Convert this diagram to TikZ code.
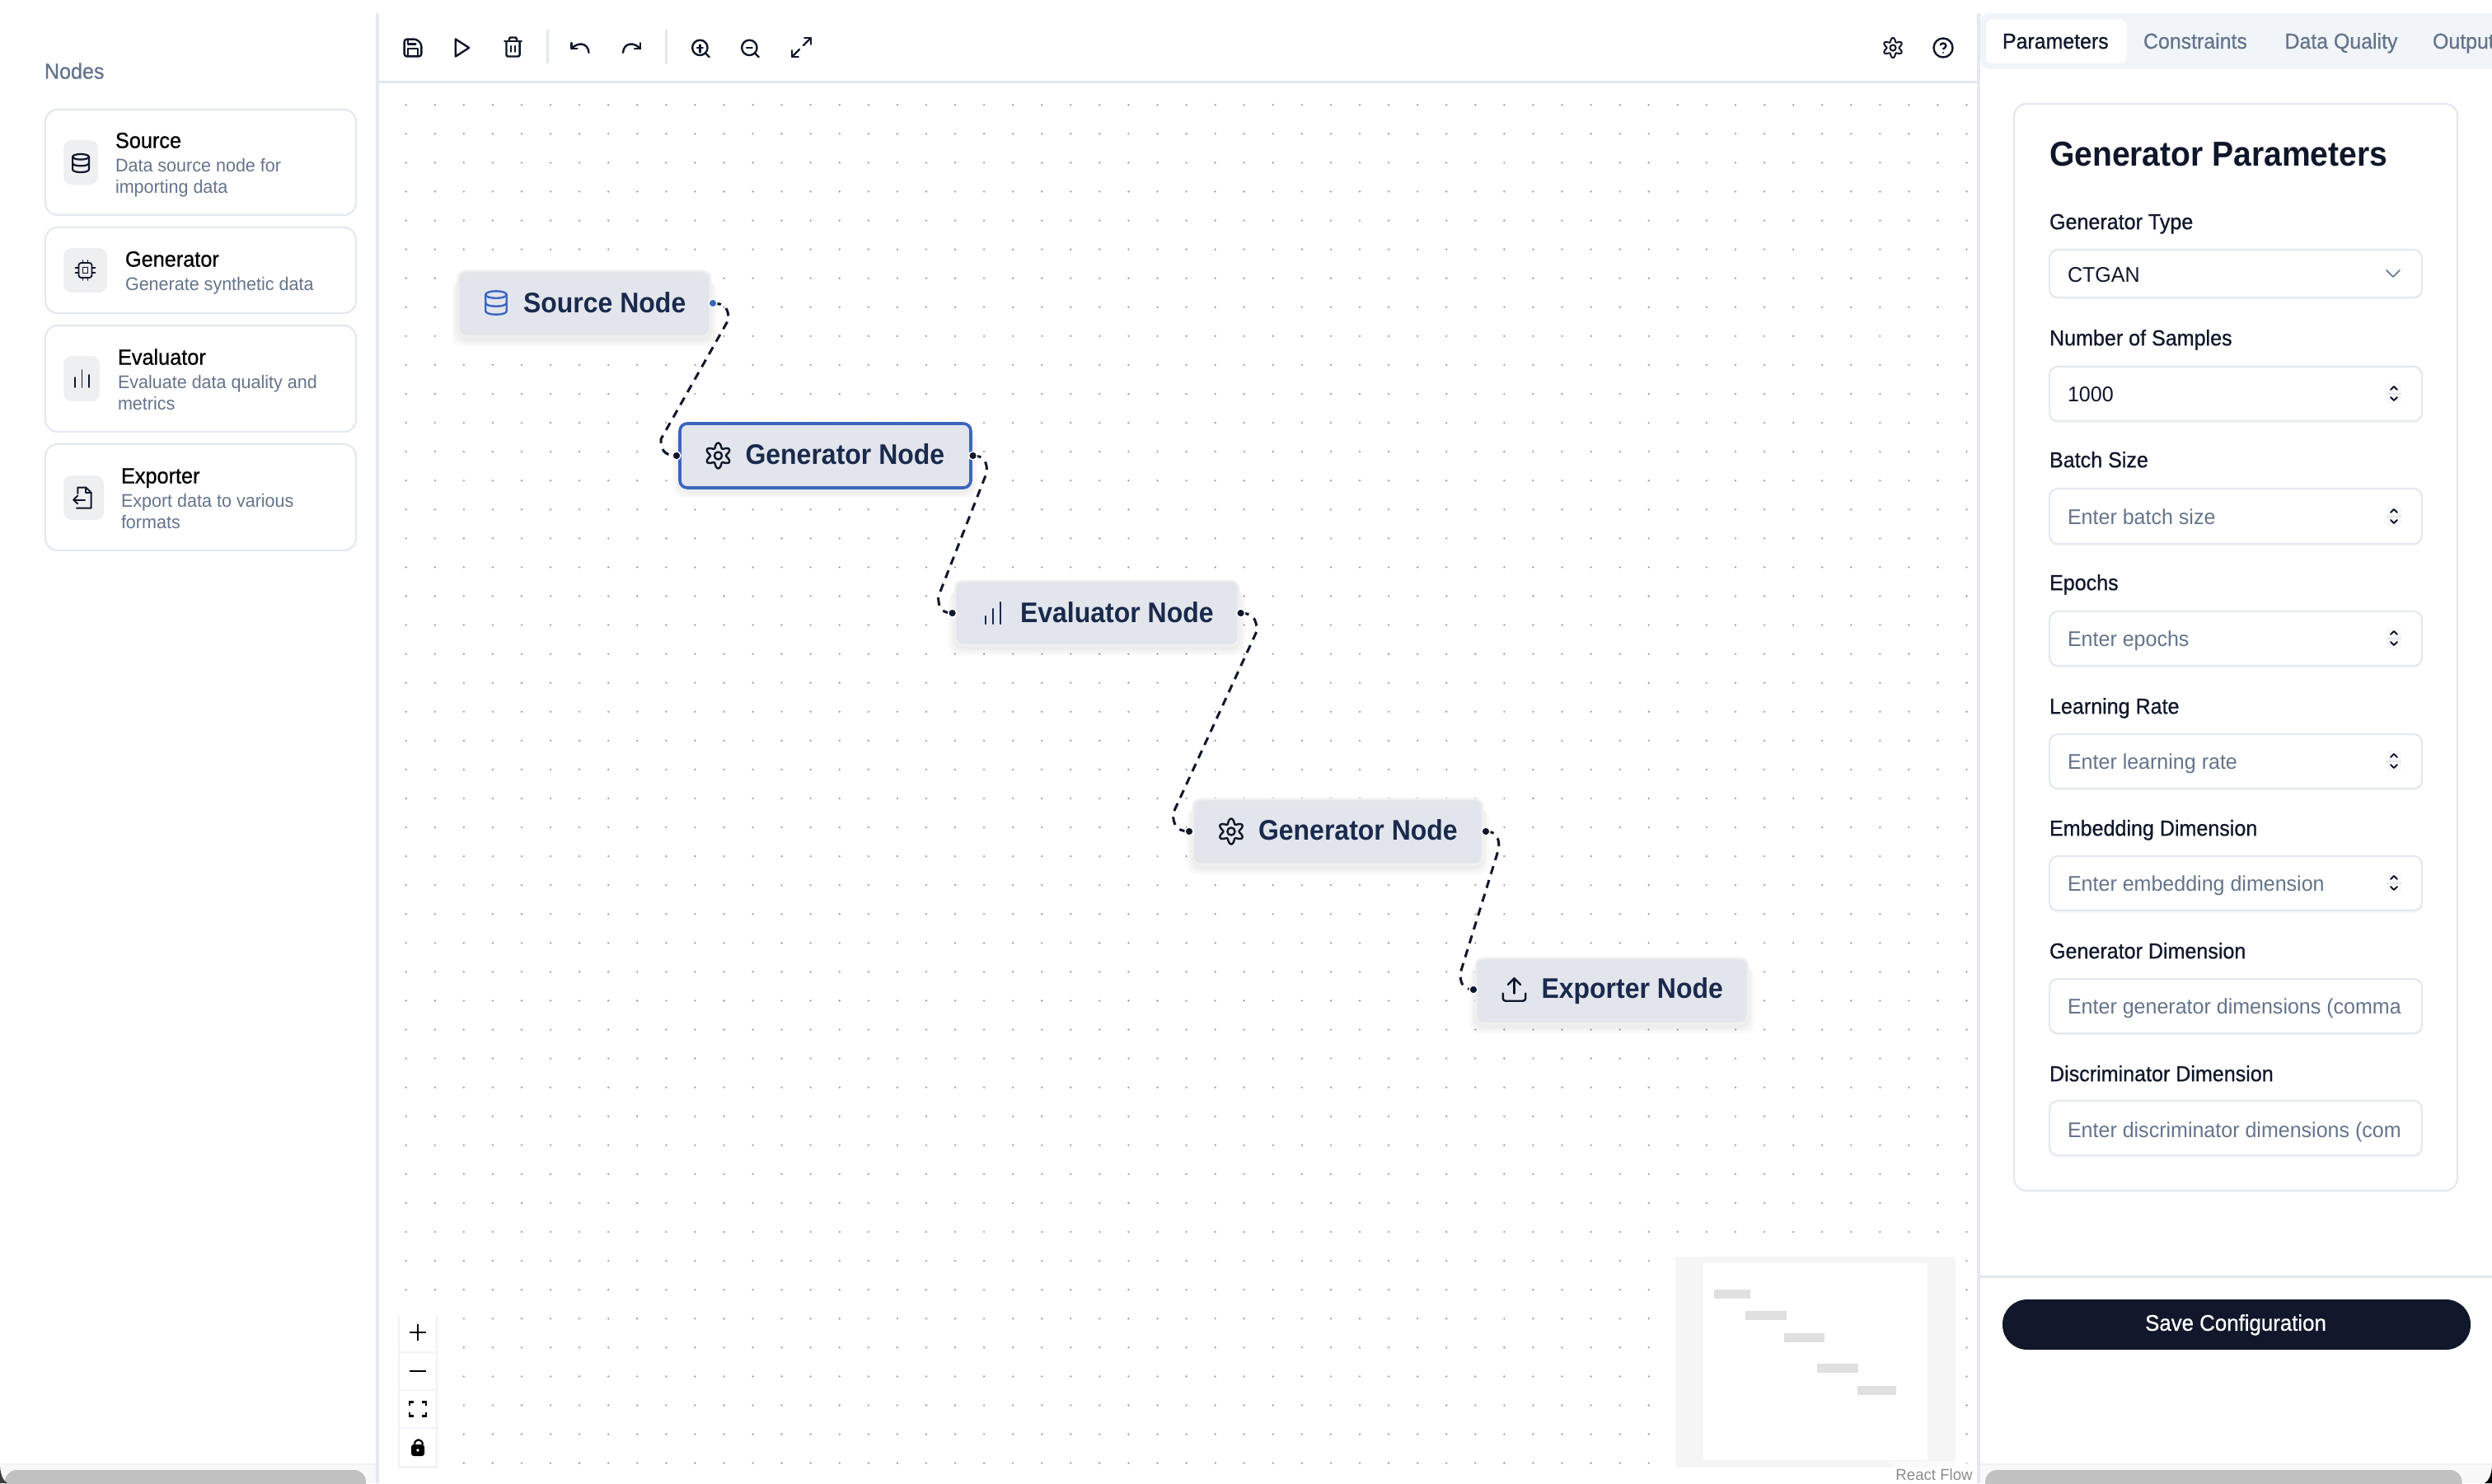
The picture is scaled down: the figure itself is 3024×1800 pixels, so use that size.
\documentclass[tikz,border=0pt]{standalone}
\usepackage{fontspec}
\setmainfont[FakeStretch=.97]{Liberation Sans}
\newfontfamily\medf[FakeBold=0.7,FakeStretch=.95]{Liberation Sans}
\newfontfamily\boldf[FakeStretch=.93,UprightFont=* Bold]{Liberation Sans}
\usetikzlibrary{calc}
\pgfdeclarelayer{under}
\pgfsetlayers{under,main}
\definecolor{rulec}{HTML}{E4E8F0}
\definecolor{slatec}{HTML}{64748B}
\definecolor{darkc}{HTML}{0F172A}
\definecolor{navyc}{HTML}{1A2A4D}
\definecolor{bluec}{HTML}{3B66BE}
\definecolor{flowc}{HTML}{E2E5EC}
\definecolor{flowb}{HTML}{F0F0EF}
\definecolor{chipc}{HTML}{EEEFF1}
\definecolor{tabc}{HTML}{F1F5F9}
\definecolor{dotc}{HTML}{A0A0A6}
\definecolor{btnc}{HTML}{12182B}
\definecolor{thumbc}{HTML}{C1C1C1}
\definecolor{trackc}{HTML}{F8F8F8}
\definecolor{minic}{HTML}{F5F5F5}
\definecolor{minin}{HTML}{E0E0E0}
\tikzset{
  lab/.style={anchor=west,inner sep=0pt,outer sep=0pt},
  titlet/.style={lab,font=\medf\fontsize{13.3}{15}\selectfont,text=black,text height=7.6pt,text depth=0pt},
  subt/.style={lab,font=\fontsize{11.1}{13}\selectfont,text=slatec,text height=7.8pt,text depth=0pt},
  flowt/.style={lab,font=\boldf\fontsize{17.2}{19}\selectfont,text=navyc,text height=10.5pt,text depth=0pt},
  fieldl/.style={lab,font=\medf\fontsize{13.2}{15}\selectfont,text=darkc,text height=8.2pt,text depth=0pt},
  fieldt/.style={lab,font=\fontsize{12.9}{15}\selectfont,text=slatec,text height=9pt,text depth=0pt},
  tabt/.style={lab,font=\medf\fontsize{13.1}{15}\selectfont,text=slatec,text height=8pt,text depth=0pt},
  flownode/.style={draw=flowb,line width=1.4pt,fill=flowc,rounded corners=4.5pt,inner sep=0pt},
  selnode/.style={flownode,draw=bluec,line width=1.8pt},
  handle/.style={circle,fill=darkc,draw=white,line width=.7pt,minimum size=5pt,inner sep=0pt},
  edgeline/.style={draw=darkc,line width=1.5pt,dash pattern=on 5pt off 3.8pt},
  ico/.style={draw=#1,line width=1.2pt,line cap=round,line join=round},
  ico/.default=darkc,
  card/.style={draw=rulec,line width=1.1pt,fill=white,rounded corners=7.5pt},
  inbox/.style={draw=rulec,line width=1.1pt,fill=white,rounded corners=5pt},
}
\newcommand\flowbox[7]{% name,x1,y1,x2,y2,style,-
  \foreach \e/\d in {8/12,5/9,2/6}{\fill[black,opacity=.025,rounded corners=6pt] ({#2-\e},{#3+\d}) rectangle ({#4+\e},{#5+\d});}
  \node[#6,minimum width={(#4-#2)*0.5pt},minimum height={(#5-#3)*0.5pt}] (#1) at ({(#2+#4)/2},{(#3+#5)/2}) {};
}
\newcommand\flowedge[4]{\draw[edgeline] (#1.center) .. controls ($(#1.center)+(#3-3,0)$) and ($(#1.center)+(#3,#4-12)$) .. ($(#1.center)+(#3,#4)$) -- ($(#2.center)+(-#3,-#4)$) .. controls ($(#2.center)+(-#3,-#4+12)$) and ($(#2.center)+(-#3+3,0)$) .. (#2.center);}
% icons, drawn in a lucide-like 24 grid centred at the origin
\newcommand\icdb{\draw (0,-7) ellipse [x radius=9,y radius=3];
  \draw (-9,-7) -- (-9,7) .. controls (-9,11) and (9,11) .. (9,7) -- (9,-7);
  \draw (-9,0) .. controls (-9,4) and (9,4) .. (9,0);}
\newcommand\icgear{\draw plot[domain=0:355,samples=72,smooth cycle] (\x:{12.5-3*cos(6*\x)});
  \draw (0,0) circle [radius=4.6];}
\newcommand\icsave{\draw[rounded corners=1.5pt] (-9,-9) -- (4,-9) -- (9,-4) -- (9,9) -- (-9,9) -- cycle;
  \draw (5,9) -- (5,1) -- (-5,1) -- (-5,9); \draw (-5,-9) -- (-5,-4) -- (3,-4);}
\newcommand\icplay{\draw (-7,-9) -- (7,0) -- (-7,9) -- cycle;}
\newcommand\ictrash{\draw (-9,-6) -- (9,-6); \draw[rounded corners=1pt] (7,-6) -- (7,10) -- (-7,10) -- (-7,-6);
  \draw (-4,-6) -- (-4,-8) .. controls (-4,-10) and (-3,-10) .. (-2,-10) -- (2,-10) .. controls (3,-10) and (4,-10) .. (4,-8) -- (4,-6);
  \draw (-2,-1) -- (-2,5); \draw (2,-1) -- (2,5);}
\newcommand\icundo{\draw (-9,-5) -- (-9,1) -- (-3,1); \draw (9,5) .. controls (8,-6) and (-3,-6) .. (-9,1);}
\newcommand\iczoom{\draw (-1,-1) circle [radius=8]; \draw (9,9) -- (4.7,4.7); \draw (-4,-1) -- (2,-1);}
\newcommand\icexpand{\draw (3,-9) -- (9,-9) -- (9,-3); \draw (2,-2) -- (9,-9); \draw (-3,9) -- (-9,9) -- (-9,3); \draw (-2,2) -- (-9,9);}
\newcommand\ichelp{\draw (0,0) circle [radius=10];
  \draw (-2.9,-3) .. controls (-2.3,-5.5) and (3,-5.5) .. (3,-2) .. controls (3,0) and (0,1) .. (0,1);
  \fill[darkc] (0,5) circle [radius=.9];}
\newcommand\icchip{\draw[rounded corners=1.5pt] (-8,-9) rectangle (8,9); \draw (-3,-3.5) rectangle (3,3.5);
  \foreach \p in {-3,3}{\draw (\p,-12) -- (\p,-9); \draw (\p,9) -- (\p,12); \draw (-12,\p) -- (-8,\p); \draw (8,\p) -- (12,\p);}}
\newcommand\icfile{\draw (-5,-4) -- (-5,-10) -- (3,-10) -- (8,-5) -- (8,10) -- (-6,10);
  \draw (3,-10) -- (3,-5) -- (8,-5);
  \draw (-9,2) -- (2,2); \draw (-5,-2) -- (-9,2) -- (-5,6);}
\newcommand\icupload{\draw[rounded corners=1.5pt] (9,3) -- (9,9) -- (-9,9) -- (-9,3); \draw (5,-4) -- (0,-9) -- (-5,-4); \draw (0,-9) -- (0,3);}
\newcommand\icat[5][darkc]{\begin{scope}[shift={(#2,#3)},scale=#4,ico=#1]#5\end{scope}}
% form field: id, label y, box y1, box y2, text y, label, value, spinner, text colour
\newcommand\field[9]{%
  \node[fieldl] (lab#1) at (2487,#2) {#6};
  \fill[black,opacity=.025,rounded corners=5pt] (2487,#3+2) rectangle (2939,#4+3);
  \draw[inbox] (2487,#3) rectangle (2939,#4);
  \begin{scope}
    \clip (2490,#3) rectangle (2917,#4);
    \node[fieldt,text=#9] (val#1) at (2509,#5) {#7};
  \end{scope}
  \ifnum#8=1
    \fill[trackc,rounded corners=2pt] (2896,#5-13) rectangle (2914,#5+12);
    \draw[rulec,line width=.8pt] (2896,#5) -- (2914,#5);
    \draw[ico=darkc,line width=1pt] (2901,#5-5) -- (2905,#5-9) -- (2909,#5-5);
    \draw[ico=darkc,line width=1pt] (2901,#5+4) -- (2905,#5+8) -- (2909,#5+4);
  \fi
}
\begin{document}
\begin{tikzpicture}[x=0.5pt,y=-0.5pt]
\useasboundingbox (0,0) rectangle (3024,1800);
\begin{pgfonlayer}{under}
  \fill[white] (0,0) rectangle (3024,1800);
  \fill[dotc] \foreach \i in {0,...,54}{\foreach \j in {0,...,47}{({492.7+\i*35.07},{127.3+\j*35.07}) circle [radius=1.3]}};
\end{pgfonlayer}

% frame rules
\fill[rulec] (456,16) rectangle (459.5,1800);
\fill[rulec] (2399,16) rectangle (2402.5,1800);
\fill[rulec] (460,98) rectangle (2399,100.5);
\fill[rulec] (663,36) rectangle (665.5,77);
\fill[rulec] (807,36) rectangle (809.5,77);

% left panel
\node[lab,font=\medf\fontsize{13.2}{15}\selectfont,text=slatec,text height=7.6pt,text depth=0pt] (nodeshead) at (54,88) {Nodes};
\draw[card] (55,133) rectangle (432,261);
\draw[card] (55,276) rectangle (432,380);
\draw[card] (55,395) rectangle (432,524);
\draw[card] (55,539) rectangle (432,668);
\fill[chipc,rounded corners=5pt] (77,170) rectangle (119,224);
\fill[chipc,rounded corners=5pt] (77,301) rectangle (130,355);
\fill[chipc,rounded corners=5pt] (77,432) rectangle (121,487);
\fill[chipc,rounded corners=5pt] (77,577) rectangle (126,631);
\icat{98}{198}{1.1}{\tikzset{every path/.style={line width=1.1pt}}\icdb}
\icat{103.5}{328}{1}{\tikzset{every path/.style={line width=.9pt}}\icchip}
\icat{100.5}{604}{1.25}{\tikzset{every path/.style={line width=1pt}}\icfile}
\begin{scope}[ico=darkc,line width=.9pt]
  \draw (91,470) -- (91,458); \draw (99.5,470) -- (99.5,449); \draw (108,470) -- (108,455);
\end{scope}
\node[titlet] (c1t) at (140,172) {Source};
\node[subt] (c1a) at (140,201) {Data source node for};
\node[subt] (c1b) at (140,227) {importing data};
\node[titlet] (c2t) at (152,316) {Generator};
\node[subt] (c2a) at (152,345) {Generate synthetic data};
\node[titlet] (c3t) at (143,435) {Evaluator};
\node[subt] (c3a) at (143,464) {Evaluate data quality and};
\node[subt] (c3b) at (143,490) {metrics};
\node[titlet] (c4t) at (147,579) {Exporter};
\node[subt] (c4a) at (147,608) {Export data to various};
\node[subt] (c4b) at (147,634) {formats};

% toolbar
\icat{501}{58}{1.15}{\icsave}
\icat{561}{58}{1.17}{\icplay}
\icat{622.5}{57}{1.15}{\ictrash}
\icat{704}{58}{1.17}{\icundo}
\begin{scope}[shift={(766.5,58)},xscale=-1.17,yscale=1.17,ico=darkc]\icundo\end{scope}
\icat{850.5}{59}{1.15}{\iczoom}
\icat{910.5}{59}{1.15}{\iczoom}
\draw[ico=darkc] (849.5,54.5) -- (849.5,63.5);
\icat{972.5}{57.5}{1.25}{\icexpand}
\icat{2297}{58}{.78}{\tikzset{every path/.style={line width=1pt}}\icgear}
\icat{2358}{58}{1.15}{\ichelp}

% flow nodes
\flowbox{source}{556}{329}{862}{408}{flownode}{}
\flowbox{gena}{825}{514}{1178}{592}{selnode}{}
\flowbox{evala}{1159}{705}{1503}{783}{flownode}{}
\flowbox{genb}{1448}{970}{1799}{1049}{flownode}{}
\flowbox{expo}{1791}{1163}{2121}{1242}{flownode}{}
\icat[bluec]{602}{367.5}{1.42}{\icdb}
\icat{871.5}{553}{1}{\icgear}
\icat{1494}{1009}{1}{\icgear}
\icat{1837.5}{1201}{1.52}{\icupload}
\begin{scope}[ico=navyc]
  \draw (1196,757) -- (1196,748); \draw (1205,757) -- (1205,739); \draw (1214,757) -- (1214,731);
\end{scope}
\node[flowt] (sourcet) at (635,369) {Source Node};
\node[flowt] (genat) at (904.5,553) {Generator Node};
\node[flowt] (evalat) at (1238,744.5) {Evaluator Node};
\node[flowt] (genbt) at (1527,1009) {Generator Node};
\node[flowt] (expot) at (1870.5,1201) {Exporter Node};

% handles and connectors
\node[handle,fill=bluec] (h1) at (865,368) {};
\node[handle] (h2) at (821,553) {};
\node[handle] (h3) at (1180.6,553) {};
\node[handle] (h4) at (1155.6,744) {};
\node[handle] (h5) at (1505.6,744) {};
\node[handle] (h6) at (1443,1009) {};
\node[handle] (h7) at (1803,1009) {};
\node[handle] (h8) at (1788,1201) {};
\begin{pgfonlayer}{under}
  \flowedge{h1}{h2}{19}{20}
  \flowedge{h3}{h4}{17}{20}
  \flowedge{h5}{h6}{19.5}{22}
  \flowedge{h7}{h8}{16}{20}
\end{pgfonlayer}

% zoom controls
\fill[black,opacity=.05] (483,1596) rectangle (531,1782);
\foreach \a/\b in {1596/1640,1642/1686,1688/1732,1734/1779}{\fill[white] (485,\a) rectangle (529,\b);}
\fill[rulec!50!white] (485,1640) rectangle (529,1642);
\fill[rulec!50!white] (485,1686) rectangle (529,1688);
\fill[rulec!50!white] (485,1732) rectangle (529,1734);
\draw[black,line width=1.3pt] (497,1617) -- (517,1617); \draw[black,line width=1.3pt] (507,1607) -- (507,1627);
\draw[black,line width=1.3pt] (497,1664) -- (517,1664);
\begin{scope}[black,line width=1.2pt]
  \draw (497,1706) -- (497,1701.5) -- (502,1701.5); \draw (512,1701.5) -- (517,1701.5) -- (517,1706);
  \draw (497,1714) -- (497,1718.5) -- (502,1718.5); \draw (512,1718.5) -- (517,1718.5) -- (517,1714);
\end{scope}
\fill[black,rounded corners=1.5pt] (499,1753) rectangle (515,1767);
\draw[black,line width=1.1pt] (503,1753) .. controls (503,1746) and (512,1745) .. (513,1753);
\fill[white] (507,1760) circle [radius=1.8];

% minimap
\fill[minic] (2033,1525) rectangle (2373,1781);
\fill[white] (2067,1533) rectangle (2339,1772);
\fill[minin] (2080,1565) rectangle (2123.5,1576);
\fill[minin] (2118,1591) rectangle (2168,1602);
\fill[minin] (2165,1618) rectangle (2214,1629);
\fill[minin] (2205,1655) rectangle (2255,1666);
\fill[minin] (2253.5,1682) rectangle (2300.5,1693);
\fill[white,opacity=.5] (2295,1773) rectangle (2399,1800);
\node[anchor=east,inner sep=0pt,font=\fontsize{9.6}{11}\selectfont,text=black!45,text height=6.8pt,text depth=0pt] (rfl) at (2394,1790) {React Flow};

% right panel: tabs
\fill[tabc,rounded corners=6pt] (2403,16) rectangle (3060,84);
\fill[white,rounded corners=4pt] (2410,23) rectangle (2580,77);
\node[tabt,text=darkc] (tab1) at (2430,51) {Parameters};
\node[tabt] (tab2) at (2601,51) {Constraints};
\node[tabt] (tab3) at (2772.5,51) {Data Quality};
\node[tabt] (tab4) at (2952,51) {Output};

% right panel: form
\draw[card] (2444,126) rectangle (2982,1445);
\node[lab,font=\boldf\fontsize{21}{24}\selectfont,text=darkc,text height=14pt,text depth=0pt] (ftitle) at (2487,187) {Generator Parameters};
\field{a}{270}{303}{361}{333}{Generator Type}{CTGAN}{0}{darkc}
\draw[ico=slatec,line width=.8pt] (2896,328) -- (2904,336) -- (2912,328);
\field{b}{411}{445}{511}{478}{Number of Samples}{1000}{1}{darkc}
\field{c}{559}{593}{660}{627}{Batch Size}{Enter batch size}{1}{slatec}
\field{d}{708}{742}{808}{775}{Epochs}{Enter epochs}{1}{slatec}
\field{e}{858}{891}{957}{924}{Learning Rate}{Enter learning rate}{1}{slatec}
\field{f}{1006}{1039}{1105}{1072}{Embedding Dimension}{Enter embedding dimension}{1}{slatec}
\field{g}{1155}{1188}{1254}{1221}{Generator Dimension}{Enter generator dimensions (comma}{0}{slatec}
\field{h}{1304}{1336}{1402}{1371}{Discriminator Dimension}{Enter discriminator dimensions (com}{0}{slatec}

% save bar
\fill[rulec] (2403,1548) rectangle (3024,1550.5);
\fill[btnc,rounded corners=15pt] (2430,1577) rectangle (2998,1638);
\node[inner sep=0pt,font=\medf\fontsize{13.6}{16}\selectfont,text=white,text height=7.9pt,text depth=0pt] (savet) at (2713,1607) {Save Configuration};

% scrollbars
\fill[trackc] (0,1776) rectangle (456,1800);
\fill[rulec!60!white] (0,1775.5) rectangle (456,1777.5);
\fill[thumbc,rounded corners=7pt] (6,1784) rectangle (444,1815);
\fill[trackc] (2403,1777) rectangle (3024,1800);
\fill[rulec!60!white] (2403,1776) rectangle (3024,1778);
\fill[thumbc,rounded corners=7pt] (2409,1784) rectangle (2987.5,1815);
\fill[black!85!cyan] (0,1780) .. controls (1,1791) and (4,1797) .. (9,1800) -- (0,1800) -- cycle;
\fill[black] (3024,1780) .. controls (3023,1791) and (3020,1797) .. (3015,1800) -- (3024,1800) -- cycle;
\end{tikzpicture}
\end{document}
